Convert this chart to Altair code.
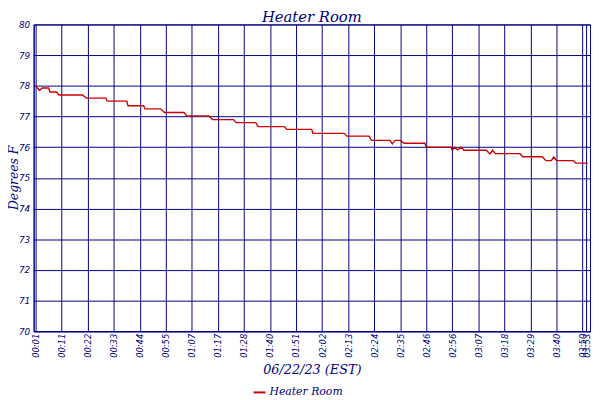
import altair as alt
import pandas as pd

# sample index (position along the time axis) and temperature readings
sample = [0, 3, 5, 10, 11, 16, 18, 36, 39, 54, 55, 70, 71, 83, 84, 96, 99, 114, 116, 133,
          136, 152, 154, 169, 171, 191, 193, 212, 213, 237, 239, 256, 258, 272, 274, 276,
          280, 283, 299, 300, 319, 320, 322, 324, 327, 329, 346, 349, 351, 353, 372, 374,
          389, 392, 396, 398, 400, 413, 415, 424]
temp = [78.0, 77.85, 77.93, 77.93, 77.8, 77.8, 77.7, 77.7, 77.6, 77.6, 77.5, 77.5, 77.35, 77.35,
        77.25, 77.25, 77.13, 77.13, 77.02, 77.02, 76.9, 76.9, 76.8, 76.8, 76.67, 76.67, 76.58,
        76.58, 76.45, 76.45, 76.36, 76.36, 76.22, 76.22, 76.11, 76.22, 76.22, 76.13, 76.13,
        76.0, 76.0, 75.91, 76.0, 75.91, 76.0, 75.9, 75.9, 75.78, 75.9, 75.79, 75.79, 75.69,
        75.69, 75.56, 75.56, 75.68, 75.56, 75.56, 75.48, 75.48]

tick_pos = [0, 20, 40, 60, 80, 100, 120, 140, 160, 180, 200, 220, 240, 260, 280, 300,
            320, 340, 360, 380, 400, 420, 423]
tick_labels = ["00:01", "00:11", "00:22", "00:33", "00:44", "00:55", "01:07", "01:17",
               "01:28", "01:40", "01:51", "02:02", "02:13", "02:24", "02:35", "02:46",
               "02:56", "03:07", "03:18", "03:29", "03:40", "03:50", "03:53"]
y_ticks = [70, 71, 72, 73, 74, 75, 76, 77, 78, 79, 80]
series_name = "Heater Room"

df = pd.DataFrame({"sample": sample, "temp": temp, "series": series_name})

NAVY = "#000080"
RED = "#cc0000"

label_expr = "[" + ",".join(f"'{t}'" for t in tick_labels) + "][indexof([" + \
    ",".join(str(p) for p in tick_pos) + "], datum.value)]"

line = alt.Chart(df).mark_line(strokeWidth=1.4, interpolate="linear").encode(
    x=alt.X("sample:Q",
            scale=alt.Scale(domain=[-1.5, 425.8], nice=False, zero=False),
            axis=alt.Axis(values=tick_pos, labelExpr=label_expr, labelAngle=270,
                          labelAlign="right", labelBaseline="middle", labelPadding=2,
                          ticks=False, grid=True, gridColor=NAVY, gridWidth=1,
                          domainColor=NAVY, labelColor=NAVY, labelFont="DejaVu Sans",
                          labelFontStyle="italic", labelFontSize=8.5, labelOverlap=False,
                          title="06/22/23 (EST)", titleFont="DejaVu Serif",
                          titleFontStyle="italic", titleFontWeight="normal",
                          titleFontSize=13, titleColor=NAVY, titleBaseline="alphabetic",
                          titleY=43)),
    y=alt.Y("temp:Q",
            scale=alt.Scale(domain=[70, 80], nice=False, zero=False),
            axis=alt.Axis(values=y_ticks, ticks=False, grid=True, gridColor=NAVY,
                          gridWidth=1, domainColor=NAVY, labelColor=NAVY,
                          labelFont="DejaVu Sans", labelFontStyle="italic",
                          labelFontSize=9, labelPadding=4, format="d",
                          title="Degrees F", titleFont="DejaVu Serif",
                          titleFontStyle="italic", titleFontWeight="normal",
                          titleFontSize=12.5, titleColor=NAVY, titleAngle=270,
                          titleBaseline="top", titleX=-26, titleY=155)),
    color=alt.Color("series:N",
                    scale=alt.Scale(domain=[series_name], range=[RED]),
                    legend=alt.Legend(title=None, orient="none", legendX=222, legendY=366,
                                      symbolType="stroke", symbolStrokeWidth=2,
                                      symbolSize=144, symbolStrokeColor=RED,
                                      labelFont="DejaVu Serif", labelFontStyle="italic",
                                      labelFontSize=11, labelColor=NAVY, labelOffset=3,
                                      padding=0)),
)

chart = line.properties(
    width=564,
    height=311,
    title=alt.TitleParams(series_name, font="DejaVu Serif", fontStyle="italic",
                          fontWeight="normal", fontSize=15, color=NAVY, anchor="middle",
                          offset=0, dy=5),
    padding={"left": 26, "top": 14, "right": 2, "bottom": 67},
    autosize=alt.AutoSizeParams(type="none"),
).configure_view(stroke=NAVY, strokeWidth=1)

chart.save("out.html", embed_options={"renderer": "svg", "actions": False})
